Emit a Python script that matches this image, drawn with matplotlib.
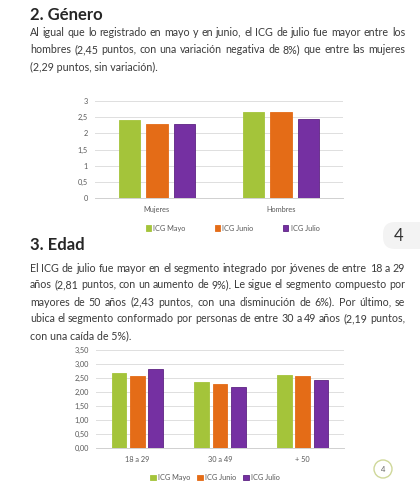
import numpy as np
import matplotlib
matplotlib.use("Agg")
import matplotlib.pyplot as plt
from matplotlib.patches import FancyBboxPatch, Circle

# datos
genero = ["Mujeres", "Hombres"]
genero_mayo = [2.40, 2.65]
genero_junio = [2.29, 2.66]
genero_julio = [2.29, 2.45]

edad = ["18 a 29", "30 a 49", "+ 50"]
edad_mayo = [2.67, 2.36, 2.62]
edad_junio = [2.58, 2.30, 2.58]
edad_julio = [2.81, 2.19, 2.43]

series = ["ICG Mayo", "ICG Junio", "ICG Julio"]
colores = ["#A4C43A", "#E46C17", "#7530A2"]
bordes = ["#A4C43A", "#E46C17", "#5E2483"]

texto_genero = [
    "Al igual que lo registrado en mayo y en junio, el ICG de julio fue mayor entre los",
    "hombres (2,45 puntos, con una variación negativa de 8%) que entre las mujeres",
    "(2,29 puntos, sin variación).",
]
texto_edad = [
    "El ICG de julio fue mayor en el segmento integrado por jóvenes de entre 18 a 29",
    "años (2,81 puntos, con un aumento de 9%). Le sigue el segmento compuesto por",
    "mayores de 50 años (2,43 puntos, con una disminución de 6%). Por último, se",
    "ubica el segmento conformado por personas de entre 30 a 49 años (2,19 puntos,",
    "con una caída de 5%).",
]

plt.rcParams["font.family"] = ["Lato", "DejaVu Sans"]
W, H = 420, 484
fig = plt.figure(figsize=(4.2, 4.84), dpi=100)
fig.patch.set_facecolor("white")
renderer = fig.canvas.get_renderer()


def px(x, y):
    return x / W, 1 - y / H


def parrafo(lineas, y0, dy, x0=30, x1=405, size=7.7):
    for i, linea in enumerate(lineas):
        y = y0 + i * dy
        if i == len(lineas) - 1:
            fig.text(*px(x0, y), linea, fontsize=size, color="#3a3a3a", va="center")
            continue
        palabras = linea.split(" ")
        objs = [fig.text(0, 0, p, fontsize=size, color="#3a3a3a", va="center") for p in palabras]
        anchos = [o.get_window_extent(renderer).width for o in objs]
        hueco = (x1 - x0 - sum(anchos)) / (len(palabras) - 1)
        x = x0
        for o, a in zip(objs, anchos):
            o.set_position(px(x, y))
            x += a + hueco


fig.text(*px(30, 15), "2. Género", fontsize=12, fontweight="bold", color="#262626", va="center")
parrafo(texto_genero, 32.5, 17.3)
fig.text(*px(30, 245), "3. Edad", fontsize=12, fontweight="bold", color="#262626", va="center")
parrafo(texto_edad, 268, 17)


def grafico(rect, cats, valores, ymax, paso, fmt, ancho, sep, leg_x, leg_y, colsp):
    ax = fig.add_axes(rect)
    x = np.arange(len(cats))
    for k, vals in enumerate(valores):
        ax.bar(x + (k - 1) * sep, vals, width=ancho, color=colores[k],
               edgecolor=bordes[k], linewidth=0.6, label=series[k], zorder=3)
    ax.set_xlim(-0.5, len(cats) - 0.5)
    ax.set_ylim(0, ymax)
    ticks = np.arange(0, ymax + 0.001, paso)
    ax.set_yticks(ticks)
    ax.set_yticklabels([fmt(t) for t in ticks])
    ax.set_xticks(x)
    ax.set_xticklabels(cats)
    ax.grid(axis="y", color="#dedede", linewidth=0.7, zorder=0)
    for s in ["top", "right", "left"]:
        ax.spines[s].set_visible(False)
    ax.spines["bottom"].set_color("#d0d0d0")
    ax.spines["bottom"].set_linewidth(0.7)
    ax.tick_params(length=0, labelsize=5.3, colors="#595959", pad=5)
    ax.tick_params(axis="x", pad=6)
    ax.legend(loc="center", bbox_to_anchor=(leg_x, leg_y), ncol=3, frameon=False,
              fontsize=5.3, handlelength=0.7, handleheight=0.7, handletextpad=0.3,
              columnspacing=colsp, labelcolor="#595959")
    return ax


def coma(t, dec):
    s = f"{t:.{dec}f}".replace(".", ",")
    if dec == 1 and s.endswith(",0"):
        s = s[:-2]
    return s


grafico([95 / W, 1 - 198 / H, 248 / W, 97 / H], genero,
        [genero_mayo, genero_junio, genero_julio], 3, 0.5,
        lambda t: coma(t, 1), 0.174, 0.222, 0.555, -0.31, 4.0)

grafico([96 / W, 1 - 448 / H, 248 / W, 98 / H], edad,
        [edad_mayo, edad_junio, edad_julio], 3.5, 0.5,
        lambda t: coma(t, 2), 0.18, 0.222, 0.48, -0.30, 1.0)

# numero de pagina
ov = fig.add_axes([0, 0, 1, 1], facecolor="none")
ov.set_xlim(0, W)
ov.set_ylim(H, 0)
ov.axis("off")
ov.add_patch(FancyBboxPatch((383, 222), 60, 27, boxstyle="round,pad=0,rounding_size=12",
                            facecolor="#f3f3f3", edgecolor="none"))
ov.text(399, 236, "4", fontsize=12, color="#333333", ha="center", va="center")
ov.add_patch(Circle((383, 469), 9, facecolor="white", edgecolor="#cfd89a", linewidth=1))
ov.text(383, 469, "4", fontsize=5.5, color="#666666", ha="center", va="center")

fig.savefig("out.png", dpi=100)
